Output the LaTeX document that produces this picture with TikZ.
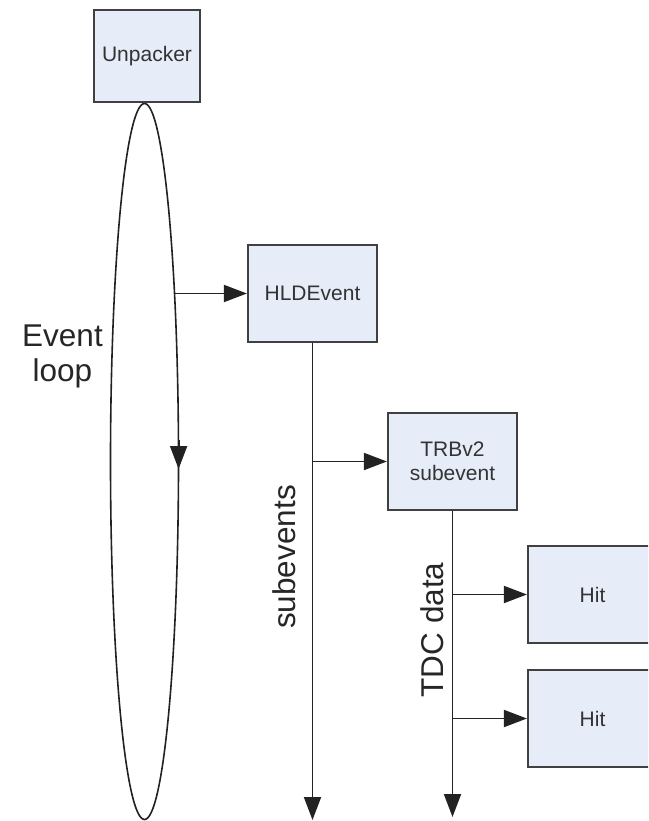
\documentclass[tikz,border=0pt]{standalone}
\usepackage{fontspec}
\setmainfont{Liberation Sans}
\usetikzlibrary{arrows.meta}
\definecolor{boxfill}{HTML}{E6ECF8}
\definecolor{boxline}{HTML}{404040}
\definecolor{txt}{HTML}{333333}
\definecolor{linec}{HTML}{222222}
\begin{document}
\begin{tikzpicture}[x=1pt,y=-1pt,
  box/.style={draw=boxline, fill=boxfill, line width=2.2pt, minimum width=129pt,
    minimum height=97pt, inner sep=0pt, font=\fontsize{21}{24}\selectfont,
    text=txt, align=center},
  conn/.style={draw=linec, line width=1.9pt, -{Triangle[length=23pt,width=17pt]}},
  biglabel/.style={font=\fontsize{31.5}{35}\selectfont, text=black!85, inner sep=0pt}]
\useasboundingbox (0,0) rectangle (648,821);
\begin{scope}
\clip (0,0) rectangle (648,821);
% event loop ellipse
\draw[draw=linec, line width=1.6pt] (144.5,461.5) ellipse [x radius=34pt, y radius=358pt];
\draw[conn] (178.6,440) -- (178.6,469);
% boxes
\node[box, minimum width=106pt, minimum height=92pt] (unp) at (147,56) {Unpacker};
\node[box] (hld) at (312.5,293.5) {HLDEvent};
\node[box] (trb) at (452.5,461.5) {TRBv2\\subevent};
\node[box] (hit1) at (592.5,594.5) {Hit};
\node[box] (hit2) at (592.5,718.5) {Hit};
% connectors
\coordinate (e1) at (174.5,293.5);
\coordinate (hldend) at (312.5,820);
\coordinate (b1) at (312.5,461.5);
\coordinate (trbend) at (452.5,817);
\coordinate (b2) at (452.5,594.5);
\coordinate (b3) at (452.5,718.5);
\draw[conn] (e1) -- (hld.west);
\draw[conn] (hld.south) -- (hldend);
\draw[conn] (b1) -- (trb.west);
\draw[conn] (trb.south) -- (trbend);
\draw[conn] (b2) -- (hit1.west);
\draw[conn] (b3) -- (hit2.west);
% labels
\node[biglabel, align=center] (evl) at (62.5,356) {Event\\loop};
\node[biglabel, rotate=90] (sub) at (284,557) {subevents};
\node[biglabel, rotate=90] (tdc) at (432,630) {TDC data};
\end{scope}
\end{tikzpicture}
\end{document}
